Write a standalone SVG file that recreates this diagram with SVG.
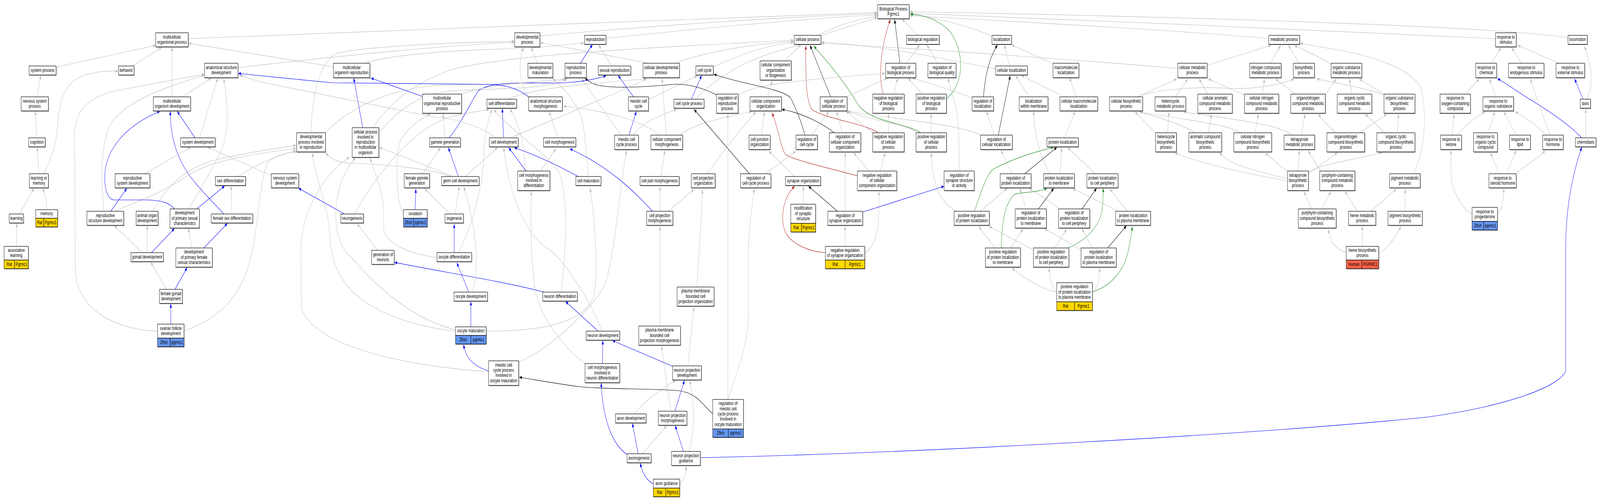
<svg xmlns="http://www.w3.org/2000/svg" width="6052" height="1283" viewBox="0 0 6052 1283" preserveAspectRatio="none" style="width:100%;height:100%;display:block">
<style>
text{font-family:"Liberation Sans",Arial,sans-serif;font-size:13px;text-anchor:middle;fill:#000}
.n rect{fill:#fff;stroke:#000;stroke-width:1.2}
.n rect.s{fill:#777;stroke:none}
.n rect.y{fill:#FFD700}
.n rect.z{fill:#6495ED}
.n rect.h{fill:#FF6347}
.e path{fill:none;stroke-width:1.2}
.g{stroke:#C0C0C0;marker-end:url(#mg)}
.b{stroke:#0000FF;marker-end:url(#mb)}
.k{stroke:#000;marker-end:url(#mk)}
.r{stroke:#B22222;marker-end:url(#mr)}
.v{stroke:#228B22;marker-end:url(#mv)}
</style>
<defs>
<marker id="mg" viewBox="0 0 10 8" refX="10" refY="4" markerWidth="11" markerHeight="8" markerUnits="userSpaceOnUse" orient="auto"><path d="M0,0L10,4L0,8z" fill="#C0C0C0"/></marker>
<marker id="mb" viewBox="0 0 10 8" refX="10" refY="4" markerWidth="11" markerHeight="8" markerUnits="userSpaceOnUse" orient="auto"><path d="M0,0L10,4L0,8z" fill="#0000FF"/></marker>
<marker id="mk" viewBox="0 0 10 8" refX="10" refY="4" markerWidth="11" markerHeight="8" markerUnits="userSpaceOnUse" orient="auto"><path d="M0,0L10,4L0,8z" fill="#000"/></marker>
<marker id="mr" viewBox="0 0 10 8" refX="10" refY="4" markerWidth="11" markerHeight="8" markerUnits="userSpaceOnUse" orient="auto"><path d="M0,0L10,4L0,8z" fill="#B22222"/></marker>
<marker id="mv" viewBox="0 0 10 8" refX="10" refY="4" markerWidth="11" markerHeight="8" markerUnits="userSpaceOnUse" orient="auto"><path d="M0,0L10,4L0,8z" fill="#228B22"/></marker>
</defs>
<rect width="6052" height="1283" fill="#fff"/>
<g id="edges" class="e">
<path class="g" d="M712,99 C1500,80 2500,50 3318,32"/>
<path class="g" d="M2042,92 C2400,70 2900,45 3318,35"/>
<path class="g" d="M2292,98 C2700,70 3000,50 3318,38"/>
<path class="g" d="M3103,91 L3319,45"/>
<path class="g" d="M2970,156 C3020,110 3150,60 3318,41"/>
<path class="g" d="M3473,91 L3412,49"/>
<path class="g" d="M3752,93 C3650,60 3500,42 3441,37"/>
<path class="g" d="M4799,99 C4500,80 4000,61 3441,40"/>
<path class="g" d="M5657,99 C5300,85 4000,49 3441,34"/>
<path class="g" d="M5931,97 C5600,60 4000,37 3441,30"/>
<path class="k" d="M3404,162 L3384,50"/>
<path class="r" d="M3341,241 C3322,200 3330,120 3368,50"/>
<path class="v" d="M3580,253 C3650,215 3650,130 3590,78 C3540,45 3480,37 3443,36"/>
<path class="g" d="M2554,162 C2700,125 2900,110 3002,106"/>
<path class="g" d="M2698,172 C2800,140 2900,115 3002,109"/>
<path class="g" d="M2630,254 C2750,170 2900,135 3029,115"/>
<path class="g" d="M1410,327 C1480,260 1560,215 1700,180 C1900,140 2500,120 3002,103"/>
<path class="g" d="M3766,177 C3500,140 3300,115 3107,108"/>
<path class="g" d="M4455,175 C4100,155 3500,125 3107,111"/>
<path class="k" d="M3142,248 L3064,116"/>
<path class="r" d="M3322,340 C3280,318 3120,304 3070,280 C3045,250 3048,180 3048,117"/>
<path class="v" d="M3483,340 C3419,313 3290,313 3245,267 C3220,240 3193,206 3078,118"/>
<path class="g" d="M3428,162 L3479,115"/>
<path class="g" d="M3547,162 L3506,115"/>
<path class="k" d="M3720,248 C3725,200 3740,150 3773,115"/>
<path class="g" d="M3819,169 L3799,115"/>
<path class="g" d="M3979,162 L3827,115"/>
<path class="g" d="M3203,247 L3357,200"/>
<path class="g" d="M3380,241 L3396,200"/>
<path class="g" d="M3488,241 L3435,200"/>
<path class="g" d="M3677,251 C3600,230 3500,210 3451,200"/>
<path class="g" d="M2792,243 C2850,220 2950,208 3348,188"/>
<path class="g" d="M3628,438 C3628,380 3630,300 3610,260 C3600,240 3592,220 3586,200"/>
<path class="k" d="M3776,346 L3821,194"/>
<path class="g" d="M3892,248 L3841,193"/>
<path class="g" d="M4010,243 L3863,193"/>
<path class="g" d="M4071,248 L4045,199"/>
<path class="g" d="M3071,346 L3135,285"/>
<path class="g" d="M3187,340 L3164,285"/>
<path class="g" d="M3303,342 L3200,285"/>
<path class="g" d="M3470,340 C3420,315 3300,310 3206,285"/>
<path class="g" d="M3709,346 C3640,320 3400,306 3206,285"/>
<path class="g" d="M3361,340 L3361,291"/>
<path class="g" d="M3522,340 L3522,291"/>
<path class="g" d="M3760,346 L3731,285"/>
<path class="g" d="M3973,445 C3930,400 3912,340 3910,285"/>
<path class="g" d="M4026,353 L4067,285"/>
<path class="k" d="M3045,346 C3030,310 3015,285 2990,250 C2950,225 2800,215 2700,190"/>
<path class="g" d="M2895,445 L3010,387"/>
<path class="k" d="M3155,340 C3120,320 3040,290 2957,280"/>
<path class="g" d="M3197,541 L3197,391"/>
<path class="g" d="M3287,438 L3229,391"/>
<path class="g" d="M3330,438 L3348,391"/>
<path class="r" d="M3243,450 C3100,425 3000,409 2970,395 C2950,370 2945,330 2920,289"/>
<path class="g" d="M3615,541 C3560,515 3530,490 3522,391"/>
<path class="g" d="M3828,445 L3786,385"/>
<path class="k" d="M3876,445 L3998,377"/>
<path class="v" d="M3686,541 C3720,470 3740,440 3760,432 C3850,400 3940,385 3985,377"/>
<path class="g" d="M4010,445 L4016,378"/>
<path class="g" d="M4142,445 L4039,378"/>
<path class="g" d="M3271,647 C3300,640 3322,600 3324,550 L3325,490"/>
<path class="b" d="M3263,543 L3571,477"/>
<path class="g" d="M3708,541 L3811,482"/>
<path class="g" d="M3882,535 L3857,482"/>
<path class="g" d="M4004,532 L3893,482"/>
<path class="k" d="M3928,535 L3986,482"/>
<path class="v" d="M3787,635 C3790,570 3800,520 3837,498 C3870,490 3920,495 3960,482"/>
<path class="g" d="M4229,541 L4058,483"/>
<path class="g" d="M3197,631 L3197,579"/>
<path class="k" d="M3168,541 L3058,477"/>
<path class="r" d="M3122,647 C3060,645 3000,625 2975,600 C2950,570 2955,510 3006,477"/>
<path class="g" d="M3039,523 L3039,477"/>
<path class="g" d="M3005,452 L2908,387"/>
<path class="g" d="M2905,248 L2921,207"/>
<path class="g" d="M2879,346 L2892,286"/>
<path class="g" d="M2676,445 C2720,400 2790,340 2860,286"/>
<path class="g" d="M2570,346 C2620,320 2700,305 2844,286"/>
<path class="b" d="M2615,254 L2654,193"/>
<path class="g" d="M2453,255 L2638,194"/>
<path class="g" d="M2394,346 C2420,325 2450,305 2560,280"/>
<path class="k" d="M2835,445 L2625,280"/>
<path class="g" d="M2753,1023 L2753,292"/>
<path class="k" d="M2710,243 C2660,225 2600,214 2547,216 C2450,222 2330,228 2260,218 C2240,214 2225,208 2213,200"/>
<path class="g" d="M2755,1022 C2770,975 2830,900 2831,800 L2831,640 C2832,590 2845,530 2853,483"/>
<path class="b" d="M2396,248 L2338,193"/>
<path class="b" d="M2379,346 L2407,285"/>
<path class="g" d="M2351,346 C2320,320 2280,280 2200,201"/>
<path class="b" d="M2195,162 L2241,114"/>
<path class="g" d="M2314,169 L2264,115"/>
<path class="g" d="M1380,162 C1500,135 1800,126 2000,124 L2209,110"/>
<path class="g" d="M1229,340 C1350,260 1500,228 1644,219 C1800,212 2050,222 2139,202"/>
<path class="g" d="M1433,340 C1500,290 1560,245 1700,233 C1900,225 2080,230 2145,202"/>
<path class="g" d="M1921,254 C2000,228 2200,215 2444,202"/>
<path class="g" d="M1934,353 C2000,330 2250,265 2446,202"/>
<path class="g" d="M2520,346 L2504,201"/>
<path class="g" d="M2454,162 L2043,109"/>
<path class="g" d="M2032,162 L2010,121"/>
<path class="g" d="M2225,452 C2220,400 2210,330 2200,300 C2160,240 2120,220 2090,201"/>
<path class="g" d="M2002,248 C1960,215 1960,160 1980,122"/>
<path class="g" d="M2110,353 L2077,286"/>
<path class="g" d="M2493,346 C2440,312 2300,284 2132,272"/>
<path class="g" d="M2045,438 L2103,381"/>
<path class="b" d="M2468,541 C2400,490 2300,425 2155,381"/>
<path class="g" d="M1839,848 C1950,848 2200,845 2245,760 C2265,700 2250,560 2232,482"/>
<path class="g" d="M1962,927 C2050,905 2200,820 2280,740 C2320,690 2340,500 2370,385"/>
<path class="g" d="M2499,452 L2515,385"/>
<path class="g" d="M2496,541 L2496,478"/>
<path class="g" d="M2528,541 L2625,485"/>
<path class="g" d="M2635,735 C2640,700 2650,600 2657,485"/>
<path class="g" d="M2496,835 L2496,580"/>
<path class="g" d="M2602,937 L2625,786"/>
<path class="g" d="M2538,1053 L2502,886"/>
<path class="g" d="M2122,748 C2140,650 2150,520 2120,450 C2090,400 1920,330 1868,280"/>
<path class="b" d="M2058,748 C1900,720 1700,700 1492,672"/>
<path class="b" d="M2263,848 L2139,772"/>
<path class="g" d="M2213,931 C2150,900 2060,830 2030,760 C2010,700 2005,580 2010,490"/>
<path class="g" d="M2277,848 C2240,780 2150,680 2080,640 C2000,610 1930,520 1905,378"/>
<path class="b" d="M2279,931 L2280,872"/>
<path class="b" d="M2544,938 L2316,872"/>
<path class="b" d="M2372,1164 C2320,1140 2280,1080 2274,981"/>
<path class="g" d="M2401,1060 C2420,1040 2470,1010 2555,974"/>
<path class="b" d="M2553,1053 L2589,974"/>
<path class="g" d="M2607,1156 C2625,1100 2630,1050 2609,974"/>
<path class="b" d="M2414,1162 L2392,1084"/>
<path class="g" d="M2430,1162 L2522,1090"/>
<path class="b" d="M2585,1156 L2554,1090"/>
<path class="b" d="M2471,1239 C2450,1232 2430,1215 2422,1186"/>
<path class="g" d="M2571,1239 C2585,1232 2593,1220 2596,1194"/>
<path class="b" d="M2649,1172 C3500,1160 4800,1110 5400,1068 C5700,1040 5900,990 5922,950 L5922,640 C5922,560 5935,470 5983,377"/>
<path class="k" d="M2696,1060 C2660,1040 2640,1005 2560,1000 C2450,995 2250,996 2190,990 C2100,982 2020,972 1964,966"/>
<path class="b" d="M1848,950 C1800,940 1760,920 1754,882"/>
<path class="g" d="M1848,952 C1600,940 1200,900 1140,790 L1138,640 C1138,560 1200,460 1322,402"/>
<path class="b" d="M1781,837 L1781,772"/>
<path class="g" d="M1723,848 C1500,830 1360,780 1300,720 C1260,680 1250,640 1248,600 C1240,520 1190,460 1182,391"/>
<path class="g" d="M1723,845 C1550,815 1420,730 1330,660 C1250,620 1245,480 1345,404"/>
<path class="b" d="M1773,748 L1728,673"/>
<path class="g" d="M1787,748 C1810,700 1810,600 1754,478"/>
<path class="b" d="M1718,647 L1718,574"/>
<path class="g" d="M1734,647 C1800,560 1830,450 1830,400 C1830,340 1850,300 1862,280"/>
<path class="g" d="M1653,660 C1560,650 1470,630 1451,590 L1451,535 C1445,480 1415,440 1400,405"/>
<path class="g" d="M1428,641 L1351,573"/>
<path class="g" d="M1702,548 L1606,483"/>
<path class="g" d="M1721,548 L1737,477"/>
<path class="b" d="M1570,537 L1573,484"/>
<path class="g" d="M1526,547 C1500,530 1495,400 1510,370 C1530,330 1600,300 1628,292"/>
<path class="b" d="M1303,548 L1129,482"/>
<path class="g" d="M1341,548 C1420,450 1560,330 1700,300 C1780,285 1830,285 1850,279"/>
<path class="g" d="M1599,445 L1667,378"/>
<path class="b" d="M1734,452 L1696,378"/>
<path class="g" d="M1760,452 L1882,378"/>
<path class="g" d="M1715,452 L1434,377"/>
<path class="g" d="M1712,455 C1650,432 1450,420 1320,418 C1270,416 1245,402 1232,391"/>
<path class="g" d="M1683,353 L1676,291"/>
<path class="b" d="M1699,353 C1750,310 1790,250 1810,232 C1850,212 1950,212 2010,212 C2100,214 2200,214 2293,194"/>
<path class="g" d="M1746,241 C1850,215 2000,212 2145,201"/>
<path class="b" d="M1905,353 L1900,278"/>
<path class="g" d="M1985,438 C1990,380 1960,310 1928,279"/>
<path class="b" d="M1990,438 L1924,378"/>
<path class="b" d="M2187,452 C2100,420 2020,395 1945,378"/>
<path class="b" d="M1598,247 L1403,200"/>
<path class="b" d="M1372,327 L1338,200"/>
<path class="g" d="M1261,171 L713,111"/>
<path class="g" d="M1176,340 C1180,260 1200,170 1264,140 C1300,125 1600,110 1946,106"/>
<path class="g" d="M900,173 C1200,150 1600,120 1946,108"/>
<path class="g" d="M435,541 C500,520 600,500 708,450 C800,410 950,395 1120,380"/>
<path class="g" d="M578,541 C650,455 720,430 800,412 C900,395 1000,385 1120,372"/>
<path class="g" d="M902,452 C960,425 1020,405 1120,386"/>
<path class="g" d="M696,848 C830,815 920,760 955,640 C980,550 985,460 1010,420 C1040,395 1090,390 1121,389"/>
<path class="g" d="M596,848 C450,845 300,800 285,700 L282,345 C282,270 360,245 440,232 L773,190"/>
<path class="g" d="M393,541 C385,470 375,400 410,330 C450,265 600,230 773,192"/>
<path class="g" d="M715,535 C760,480 800,440 840,380 C870,330 860,260 846,201"/>
<path class="b" d="M2000,249 C1960,225 1900,216 1837,216 L1257,212 C1150,205 1000,195 901,188"/>
<path class="g" d="M1876,353 C1800,315 1700,302 1644,300 L1000,212 C960,205 930,198 907,193"/>
<path class="g" d="M690,248 L799,200"/>
<path class="g" d="M755,353 L824,200"/>
<path class="g" d="M651,248 L651,121"/>
<path class="b" d="M738,353 L670,285"/>
<path class="b" d="M660,535 C640,520 620,514 560,512 L430,512 C410,510 395,490 396,450 C400,380 480,320 605,285"/>
<path class="b" d="M847,548 C780,500 720,460 690,420 C650,370 644,320 644,285"/>
<path class="g" d="M212,172 L589,116"/>
<path class="g" d="M502,169 L612,121"/>
<path class="g" d="M139,248 L155,193"/>
<path class="g" d="M139,353 L134,285"/>
<path class="g" d="M147,445 L141,377"/>
<path class="g" d="M166,445 C190,410 212,380 218,320 C225,260 240,220 300,198 C360,180 420,182 447,182"/>
<path class="g" d="M73,548 L129,482"/>
<path class="g" d="M177,537 C177,510 170,495 161,482"/>
<path class="g" d="M63,631 L63,572"/>
<path class="g" d="M548,445 L721,377"/>
<path class="g" d="M1027,450 L786,377"/>
<path class="b" d="M419,541 L480,482"/>
<path class="b" d="M744,535 L850,476"/>
<path class="g" d="M877,548 L874,476"/>
<path class="g" d="M538,647 L432,578"/>
<path class="g" d="M557,647 L557,578"/>
<path class="b" d="M573,647 L660,585"/>
<path class="g" d="M726,635 L712,585"/>
<path class="b" d="M771,635 L860,572"/>
<path class="g" d="M630,741 L570,671"/>
<path class="b" d="M662,741 L708,685"/>
<path class="b" d="M646,830 L646,778"/>
<path class="g" d="M4566,167 L4808,116"/>
<path class="g" d="M4805,162 L4844,116"/>
<path class="g" d="M4915,162 L4873,116"/>
<path class="g" d="M5036,165 C4980,140 4920,125 4896,116"/>
<path class="g" d="M5345,445 C5375,410 5405,320 5376,230 C5350,180 5200,140 5000,121 L4918,111"/>
<path class="g" d="M4303,248 L4451,202"/>
<path class="g" d="M4446,248 L4493,202"/>
<path class="g" d="M4570,241 L4535,202"/>
<path class="g" d="M4705,243 L4570,202"/>
<path class="g" d="M4303,247 C4400,225 4550,222 4644,226 C4750,230 4850,215 4895,202"/>
<path class="g" d="M4370,340 L4293,286"/>
<path class="g" d="M4416,340 L4422,286"/>
<path class="g" d="M4519,340 C4480,320 4400,305 4309,286"/>
<path class="g" d="M4570,340 L4583,292"/>
<path class="g" d="M4692,340 C4644,317 4451,304 4312,287"/>
<path class="g" d="M4747,340 L4760,292"/>
<path class="g" d="M4889,346 C4837,317 4644,304 4477,287"/>
<path class="g" d="M4921,346 L4937,292"/>
<path class="g" d="M4776,241 L4783,202"/>
<path class="g" d="M4899,241 L4825,202"/>
<path class="g" d="M5114,241 L5104,202"/>
<path class="g" d="M5235,241 L5141,202"/>
<path class="g" d="M5235,243 C5168,226 5050,212 4980,202"/>
<path class="g" d="M5013,243 L5054,202"/>
<path class="g" d="M5054,340 C5020,320 5000,305 4986,292"/>
<path class="g" d="M5144,340 L5245,292"/>
<path class="g" d="M5238,340 L5164,292"/>
<path class="g" d="M5285,340 L5290,292"/>
<path class="g" d="M4911,438 L4915,385"/>
<path class="g" d="M4870,463 C4644,436 4515,411 4444,392"/>
<path class="g" d="M4870,457 C4709,432 4650,420 4612,391"/>
<path class="g" d="M4870,440 L4786,392"/>
<path class="g" d="M4949,440 C5000,420 5100,412 5228,391"/>
<path class="g" d="M4949,445 L5059,391"/>
<path class="g" d="M4995,440 C4980,420 4960,400 4948,386"/>
<path class="g" d="M4963,535 L4931,490"/>
<path class="g" d="M5000,535 L5034,490"/>
<path class="g" d="M5134,541 L5087,490"/>
<path class="g" d="M5185,541 L5282,484"/>
<path class="g" d="M5315,541 L5315,484"/>
<path class="g" d="M5153,631 L5153,579"/>
<path class="g" d="M5215,647 C5245,640 5265,620 5300,580"/>
<path class="g" d="M5092,647 C5055,640 5030,620 5025,587"/>
<path class="g" d="M4264,541 L4197,483"/>
<path class="k" d="M4093,535 L4148,482"/>
<path class="v" d="M4039,635 C4100,620 4160,580 4168,540 C4172,520 4173,500 4173,482"/>
<path class="k" d="M4190,635 L4261,578"/>
<path class="v" d="M4132,748 C4193,734 4245,702 4265,650 C4275,620 4280,600 4283,580"/>
<path class="g" d="M4132,635 L4092,586"/>
<path class="g" d="M4089,640 C4040,620 3990,600 3951,586"/>
<path class="g" d="M3990,635 L4035,587"/>
<path class="g" d="M3909,640 L3741,580"/>
<path class="g" d="M3763,635 L3702,580"/>
<path class="g" d="M3821,635 L3870,586"/>
<path class="g" d="M3997,748 C3934,742 3850,700 3828,686"/>
<path class="g" d="M3997,748 C3973,734 3969,710 3969,686"/>
<path class="g" d="M4135,748 C4152,735 4159,715 4160,686"/>
<path class="g" d="M5641,162 L5678,122"/>
<path class="g" d="M5755,162 L5718,122"/>
<path class="g" d="M5896,162 L5741,116"/>
<path class="g" d="M6003,254 C6025,220 6027,180 5993,118"/>
<path class="b" d="M5988,254 L5956,202"/>
<path class="g" d="M5998,353 L5998,279"/>
<path class="b" d="M5983,353 C5939,321 5872,290 5800,260 C5740,235 5700,215 5664,201"/>
<path class="g" d="M5542,241 L5596,202"/>
<path class="g" d="M5658,248 L5634,202"/>
<path class="g" d="M5493,346 L5500,292"/>
<path class="g" d="M5513,346 C5530,330 5560,310 5617,286"/>
<path class="g" d="M5631,340 L5654,286"/>
<path class="g" d="M5735,346 L5688,286"/>
<path class="g" d="M5849,346 C5820,325 5780,305 5731,286"/>
<path class="g" d="M5862,346 L5788,202"/>
<path class="g" d="M5671,445 L5637,391"/>
<path class="g" d="M5698,445 L5735,385"/>
<path class="g" d="M5731,445 C5780,420 5820,405 5845,385"/>
<path class="g" d="M5568,548 C5540,540 5500,500 5490,460 C5488,430 5488,400 5488,385"/>
<path class="g" d="M5664,548 C5680,540 5688,510 5688,483"/>
</g>
<g id="nodes">
<g id="bp" class="n"><rect class="s" x="3321.5" y="13.5" width="119" height="36"/><rect x="3320" y="12" width="119" height="36"/><text x="3379.5" y="26.6">Biological Process</text><text x="3379.5" y="39.9">Pgrmc1</text></g>
<g id="mop" class="n"><rect class="s" x="590.5" y="85.5" width="123" height="36"/><rect x="589" y="84" width="123" height="36"/><text x="650.5" y="98.6">multicellular</text><text x="650.5" y="111.9">organismal process</text></g>
<g id="sp" class="n"><rect class="s" x="111.5" y="170.5" width="102" height="23"/><rect x="110" y="169" width="102" height="23"/><text x="161" y="183.7">system process</text></g>
<g id="beh" class="n"><rect class="s" x="449.5" y="170.5" width="59" height="23"/><rect x="448" y="169" width="59" height="23"/><text x="477.5" y="183.7">behavior</text></g>
<g id="asd" class="n"><rect class="s" x="775.5" y="163.5" width="126" height="37"/><rect x="774" y="162" width="126" height="37"/><text x="837" y="177.1">anatomical structure</text><text x="837" y="190.4">development</text></g>
<g id="nsp" class="n"><rect class="s" x="81.5" y="249.5" width="103" height="36"/><rect x="80" y="248" width="103" height="36"/><text x="131.5" y="262.6">nervous system</text><text x="131.5" y="275.9">process</text></g>
<g id="mod" class="n"><rect class="s" x="581.5" y="249.5" width="141" height="36"/><rect x="580" y="248" width="141" height="36"/><text x="650.5" y="262.6">multicellular</text><text x="650.5" y="275.9">organism development</text></g>
<g id="cog" class="n"><rect class="s" x="109.5" y="354.5" width="63" height="23"/><rect x="108" y="353" width="63" height="23"/><text x="139.5" y="367.7">cognition</text></g>
<g id="sysd" class="n"><rect class="s" x="684.5" y="354.5" width="131" height="23"/><rect x="683" y="353" width="131" height="23"/><text x="748.5" y="367.7">system development</text></g>
<g id="lom" class="n"><rect class="s" x="112.5" y="446.5" width="72" height="36"/><rect x="111" y="445" width="72" height="36"/><text x="147" y="459.6">learning or</text><text x="147" y="472.9">memory</text></g>
<g id="rsysd" class="n"><rect class="s" x="436.5" y="446.5" width="132" height="36"/><rect x="435" y="445" width="132" height="36"/><text x="501" y="459.6">reproductive</text><text x="501" y="472.9">system development</text></g>
<g id="sexd" class="n"><rect class="s" x="816.5" y="453.5" width="114" height="23"/><rect x="815" y="452" width="114" height="23"/><text x="872" y="466.7">sex differentiation</text></g>
<g id="learn" class="n"><rect class="s" x="36.5" y="549.5" width="54" height="23"/><rect x="35" y="548" width="54" height="23"/><text x="62" y="562.7">learning</text></g>
<g id="mem" class="n"><rect class="s" x="136.5" y="538.5" width="83" height="44"/><rect x="135" y="537" width="83" height="22"/><rect class="y" x="135" y="559" width="30.6" height="22"/><rect class="y" x="165.6" y="559" width="52.4" height="22"/><text x="176.5" y="551.2">memory</text><text x="150.3" y="574.5">Rat</text><text x="191.8" y="574.5">Pgrmc1</text></g>
<g id="rsd" class="n"><rect class="s" x="330.5" y="542.5" width="139" height="36"/><rect x="329" y="541" width="139" height="36"/><text x="398.5" y="555.6">reproductive</text><text x="398.5" y="568.9">structure development</text></g>
<g id="aod" class="n"><rect class="s" x="516.5" y="542.5" width="83" height="36"/><rect x="515" y="541" width="83" height="36"/><text x="556.5" y="555.6">animal organ</text><text x="556.5" y="568.9">development</text></g>
<g id="dpsc" class="n"><rect class="s" x="644.5" y="536.5" width="111" height="49"/><rect x="643" y="535" width="111" height="49"/><text x="698.5" y="549.4">development</text><text x="698.5" y="562.7">of primary sexual</text><text x="698.5" y="576">characteristics</text></g>
<g id="fsd" class="n"><rect class="s" x="800.5" y="549.5" width="157" height="23"/><rect x="799" y="548" width="157" height="23"/><text x="877.5" y="562.7">female sex differentiation</text></g>
<g id="al" class="n"><rect class="s" x="17" y="632.5" width="92" height="57"/><rect x="15.5" y="631" width="92" height="35"/><rect class="y" x="15.5" y="666" width="39.3" height="22"/><rect class="y" x="54.8" y="666" width="52.7" height="22"/><text x="61.5" y="645.1">associative</text><text x="61.5" y="658.4">learning</text><text x="35.2" y="681.5">Rat</text><text x="81.2" y="681.5">Pgrmc1</text></g>
<g id="dpfsc" class="n"><rect class="s" x="666.5" y="636.5" width="138" height="49"/><rect x="665" y="635" width="138" height="49"/><text x="734" y="649.4">development</text><text x="734" y="662.7">of primary female</text><text x="734" y="676">sexual characteristics</text></g>
<g id="gd" class="n"><rect class="s" x="496.5" y="648.5" width="123" height="23"/><rect x="495" y="647" width="123" height="23"/><text x="556.5" y="661.7">gonad development</text></g>
<g id="fgd" class="n"><rect class="s" x="604.5" y="742.5" width="87" height="36"/><rect x="603" y="741" width="87" height="36"/><text x="646.5" y="755.6">female gonad</text><text x="646.5" y="768.9">development</text></g>
<g id="ofd" class="n"><rect class="s" x="597.5" y="831.5" width="100" height="58"/><rect x="596" y="830" width="100" height="36"/><rect class="z" x="596" y="866" width="48" height="22"/><rect class="z" x="644" y="866" width="52" height="22"/><text x="646" y="844.6">ovarian follicle</text><text x="646" y="857.9">development</text><text x="620" y="881.5">Zfish</text><text x="670" y="881.5">pgrmc1</text></g>
<g id="dp" class="n"><rect class="s" x="1948.5" y="85.5" width="95" height="36"/><rect x="1947" y="84" width="95" height="36"/><text x="1994.5" y="98.6">developmental</text><text x="1994.5" y="111.9">process</text></g>
<g id="mor" class="n"><rect class="s" x="1262.5" y="163.5" width="138" height="37"/><rect x="1261" y="162" width="138" height="37"/><text x="1330" y="177.1">multicellular</text><text x="1330" y="190.4">organism reproduction</text></g>
<g id="morp" class="n"><rect class="s" x="1599.5" y="242.5" width="148" height="49"/><rect x="1598" y="241" width="148" height="49"/><text x="1672" y="255.4">multicellular</text><text x="1672" y="268.7">organismal reproductive</text><text x="1672" y="282">process</text></g>
<g id="cd" class="n"><rect class="s" x="1843.5" y="255.5" width="112" height="23"/><rect x="1842" y="254" width="112" height="23"/><text x="1898" y="268.7">cell differentiation</text></g>
<g id="asm" class="n"><rect class="s" x="2001.5" y="249.5" width="127" height="36"/><rect x="2000" y="248" width="127" height="36"/><text x="2063.5" y="262.6">anatomical structure</text><text x="2063.5" y="275.9">morphogenesis</text></g>
<g id="dpir" class="n"><rect class="s" x="1123.5" y="341.5" width="109" height="49"/><rect x="1122" y="340" width="109" height="49"/><text x="1176.5" y="354.4">developmental</text><text x="1176.5" y="367.7">process involved</text><text x="1176.5" y="381">in reproduction</text></g>
<g id="cpirmo" class="n"><rect class="s" x="1333.5" y="328.5" width="101" height="76"/><rect x="1332" y="327" width="101" height="76"/><text x="1382.5" y="341.6">cellular process</text><text x="1382.5" y="354.9">involved in</text><text x="1382.5" y="368.2">reproduction</text><text x="1382.5" y="381.5">in multicellular</text><text x="1382.5" y="394.8">organism</text></g>
<g id="gg" class="n"><rect class="s" x="1626.5" y="354.5" width="117" height="23"/><rect x="1625" y="353" width="117" height="23"/><text x="1683.5" y="367.7">gamete generation</text></g>
<g id="cdev" class="n"><rect class="s" x="1852.5" y="354.5" width="109" height="23"/><rect x="1851" y="353" width="109" height="23"/><text x="1905.5" y="367.7">cell development</text></g>
<g id="nsd" class="n"><rect class="s" x="1027.5" y="446.5" width="104" height="36"/><rect x="1026" y="445" width="104" height="36"/><text x="1078" y="459.6">nervous system</text><text x="1078" y="472.9">development</text></g>
<g id="fgg" class="n"><rect class="s" x="1530.5" y="446.5" width="96" height="36"/><rect x="1529" y="445" width="96" height="36"/><text x="1577" y="459.6">female gamete</text><text x="1577" y="472.9">generation</text></g>
<g id="gcd" class="n"><rect class="s" x="1671.5" y="453.5" width="142" height="23"/><rect x="1670" y="452" width="142" height="23"/><text x="1741" y="466.7">germ cell development</text></g>
<g id="cmid" class="n"><rect class="s" x="1959.5" y="439.5" width="122" height="50"/><rect x="1958" y="438" width="122" height="50"/><text x="2019" y="452.9">cell morphogenesis</text><text x="2019" y="466.2">involved in</text><text x="2019" y="479.5">differentiation</text></g>
<g id="neurog" class="n"><rect class="s" x="1290.5" y="549.5" width="86" height="23"/><rect x="1289" y="548" width="86" height="23"/><text x="1332" y="562.7">neurogenesis</text></g>
<g id="ovul" class="n"><rect class="s" x="1527.5" y="538.5" width="90" height="44"/><rect x="1526" y="537" width="90" height="22"/><rect class="z" x="1526" y="559" width="37.6" height="22"/><rect class="z" x="1563.6" y="559" width="52.4" height="22"/><text x="1571" y="551.2">ovulation</text><text x="1544.8" y="574.5">Zfish</text><text x="1589.8" y="574.5">pgrmc1</text></g>
<g id="oog" class="n"><rect class="s" x="1684.5" y="549.5" width="70" height="23"/><rect x="1683" y="548" width="70" height="23"/><text x="1718" y="562.7">oogenesis</text></g>
<g id="gon" class="n"><rect class="s" x="1407.5" y="642.5" width="85" height="36"/><rect x="1406" y="641" width="85" height="36"/><text x="1448.5" y="655.6">generation of</text><text x="1448.5" y="668.9">neurons</text></g>
<g id="odiff" class="n"><rect class="s" x="1654.5" y="648.5" width="131" height="23"/><rect x="1653" y="647" width="131" height="23"/><text x="1718.5" y="661.7">oocyte differentiation</text></g>
<g id="odev" class="n"><rect class="s" x="1718.5" y="749.5" width="127" height="23"/><rect x="1717" y="748" width="127" height="23"/><text x="1780.5" y="762.7">oocyte development</text></g>
<g id="omat" class="n"><rect class="s" x="1724.5" y="838.5" width="116" height="44"/><rect x="1723" y="837" width="116" height="22"/><rect class="z" x="1723" y="859" width="58" height="22"/><rect class="z" x="1781" y="859" width="58" height="22"/><text x="1781" y="851.2">oocyte maturation</text><text x="1752" y="874.5">Zfish</text><text x="1810" y="874.5">pgrmc1</text></g>
<g id="mccpiom" class="n"><rect class="s" x="1849.5" y="925.5" width="114" height="63"/><rect x="1848" y="924" width="114" height="63"/><text x="1905" y="938.8">meiotic cell</text><text x="1905" y="952.1">cycle process</text><text x="1905" y="965.4">involved in</text><text x="1905" y="978.7">oocyte maturation</text></g>
<g id="repro" class="n"><rect class="s" x="2212.5" y="92" width="81" height="23"/><rect x="2211" y="90.5" width="81" height="23"/><text x="2251.5" y="105.2">reproduction</text></g>
<g id="dm" class="n"><rect class="s" x="1998.5" y="163.5" width="94" height="37"/><rect x="1997" y="162" width="94" height="37"/><text x="2044" y="177.1">developmental</text><text x="2044" y="190.4">maturation</text></g>
<g id="rp" class="n"><rect class="s" x="2138.5" y="163.5" width="81" height="37"/><rect x="2137" y="162" width="81" height="37"/><text x="2177.5" y="177.1">reproductive</text><text x="2177.5" y="190.4">process</text></g>
<g id="sr" class="n"><rect class="s" x="2264.5" y="170.5" width="123" height="23"/><rect x="2263" y="169" width="123" height="23"/><text x="2324.5" y="183.7">sexual reproduction</text></g>
<g id="cdp" class="n"><rect class="s" x="2433.5" y="163.5" width="138" height="37"/><rect x="2432" y="162" width="138" height="37"/><text x="2501" y="177.1">cellular developmental</text><text x="2501" y="190.4">process</text></g>
<g id="cc" class="n"><rect class="s" x="2633.5" y="170.5" width="66" height="23"/><rect x="2632" y="169" width="66" height="23"/><text x="2665" y="183.7">cell cycle</text></g>
<g id="ccob" class="n"><rect class="s" x="2876.5" y="157.5" width="118" height="49"/><rect x="2875" y="156" width="118" height="49"/><text x="2934" y="170.4">cellular component</text><text x="2934" y="183.7">organization</text><text x="2934" y="197">or biogenesis</text></g>
<g id="mcc" class="n"><rect class="s" x="2378.5" y="249.5" width="76" height="36"/><rect x="2377" y="248" width="76" height="36"/><text x="2415" y="262.6">meiotic cell</text><text x="2415" y="275.9">cycle</text></g>
<g id="ccp" class="n"><rect class="s" x="2550.5" y="255.5" width="114" height="23"/><rect x="2549" y="254" width="114" height="23"/><text x="2606" y="268.7">cell cycle process</text></g>
<g id="rrp" class="n"><rect class="s" x="2711.5" y="242.5" width="82" height="49"/><rect x="2710" y="241" width="82" height="49"/><text x="2751" y="255.4">regulation of</text><text x="2751" y="268.7">reproductive</text><text x="2751" y="282">process</text></g>
<g id="cco" class="n"><rect class="s" x="2838.5" y="249.5" width="119" height="36"/><rect x="2837" y="248" width="119" height="36"/><text x="2896.5" y="262.6">cellular component</text><text x="2896.5" y="275.9">organization</text></g>
<g id="cm" class="n"><rect class="s" x="2057.5" y="354.5" width="122" height="23"/><rect x="2056" y="353" width="122" height="23"/><text x="2117" y="367.7">cell morphogenesis</text></g>
<g id="mccp" class="n"><rect class="s" x="2326.5" y="347.5" width="90" height="37"/><rect x="2325" y="346" width="90" height="37"/><text x="2370" y="361.1">meiotic cell</text><text x="2370" y="374.4">cycle process</text></g>
<g id="ccm" class="n"><rect class="s" x="2463.5" y="347.5" width="120" height="37"/><rect x="2462" y="346" width="120" height="37"/><text x="2522" y="361.1">cellular component</text><text x="2522" y="374.4">morphogenesis</text></g>
<g id="cjo" class="n"><rect class="s" x="2834.5" y="347.5" width="80" height="37"/><rect x="2833" y="346" width="80" height="37"/><text x="2873" y="361.1">cell junction</text><text x="2873" y="374.4">organization</text></g>
<g id="cmat" class="n"><rect class="s" x="2179.5" y="453.5" width="95" height="23"/><rect x="2178" y="452" width="95" height="23"/><text x="2225.5" y="466.7">cell maturation</text></g>
<g id="cpm" class="n"><rect class="s" x="2422.5" y="453.5" width="148" height="23"/><rect x="2421" y="452" width="148" height="23"/><text x="2495" y="466.7">cell part morphogenesis</text></g>
<g id="cpo" class="n"><rect class="s" x="2616.5" y="446.5" width="90" height="36"/><rect x="2615" y="445" width="90" height="36"/><text x="2660" y="459.6">cell projection</text><text x="2660" y="472.9">organization</text></g>
<g id="rccp" class="n"><rect class="s" x="2802.5" y="446.5" width="115" height="36"/><rect x="2801" y="445" width="115" height="36"/><text x="2858.5" y="459.6">regulation of</text><text x="2858.5" y="472.9">cell cycle process</text></g>
<g id="so" class="n"><rect class="s" x="2972.5" y="453.5" width="133" height="23"/><rect x="2971" y="452" width="133" height="23"/><text x="3037.5" y="466.7">synapse organization</text></g>
<g id="cpjm" class="n"><rect class="s" x="2447.5" y="542.5" width="99" height="36"/><rect x="2446" y="541" width="99" height="36"/><text x="2495.5" y="555.6">cell projection</text><text x="2495.5" y="568.9">morphogenesis</text></g>
<g id="mss" class="n"><rect class="s" x="2992.5" y="524.5" width="94" height="71"/><rect x="2991" y="523" width="94" height="49"/><rect class="y" x="2991" y="572" width="41" height="22"/><rect class="y" x="3032" y="572" width="53" height="22"/><text x="3038" y="537.4">modification</text><text x="3038" y="550.7">of synaptic</text><text x="3038" y="564">structure</text><text x="3011.5" y="587.5">Rat</text><text x="3058.5" y="587.5">Pgrmc1</text></g>
<g id="cp" class="n"><rect class="s" x="3005.5" y="92" width="101" height="23"/><rect x="3004" y="90.5" width="101" height="23"/><text x="3054.5" y="105.2">cellular process</text></g>
<g id="br" class="n"><rect class="s" x="3430.5" y="92" width="124" height="23"/><rect x="3429" y="90.5" width="124" height="23"/><text x="3491" y="105.2">biological regulation</text></g>
<g id="loc" class="n"><rect class="s" x="3753.5" y="92" width="74" height="23"/><rect x="3752" y="90.5" width="74" height="23"/><text x="3789" y="105.2">localization</text></g>
<g id="rbp" class="n"><rect class="s" x="3351.5" y="163.5" width="114" height="37"/><rect x="3350" y="162" width="114" height="37"/><text x="3407" y="177.1">regulation of</text><text x="3407" y="190.4">biological process</text></g>
<g id="rbq" class="n"><rect class="s" x="3511.5" y="163.5" width="106" height="37"/><rect x="3510" y="162" width="106" height="37"/><text x="3563" y="177.1">regulation of</text><text x="3563" y="190.4">biological quality</text></g>
<g id="cl" class="n"><rect class="s" x="3767.5" y="170.5" width="120" height="23"/><rect x="3766" y="169" width="120" height="23"/><text x="3826" y="183.7">cellular localization</text></g>
<g id="ml" class="n"><rect class="s" x="3984.5" y="163.5" width="98" height="37"/><rect x="3983" y="162" width="98" height="37"/><text x="4032" y="177.1">macromolecule</text><text x="4032" y="190.4">localization</text></g>
<g id="rcp" class="n"><rect class="s" x="3103.5" y="249.5" width="102" height="36"/><rect x="3102" y="248" width="102" height="36"/><text x="3153" y="262.6">regulation of</text><text x="3153" y="275.9">cellular process</text></g>
<g id="nrbp" class="n"><rect class="s" x="3302.5" y="242.5" width="119" height="49"/><rect x="3301" y="241" width="119" height="49"/><text x="3360.5" y="255.4">negative regulation</text><text x="3360.5" y="268.7">of biological</text><text x="3360.5" y="282">process</text></g>
<g id="prbp" class="n"><rect class="s" x="3466.5" y="242.5" width="115" height="49"/><rect x="3465" y="241" width="115" height="49"/><text x="3522.5" y="255.4">positive regulation</text><text x="3522.5" y="268.7">of biological</text><text x="3522.5" y="282">process</text></g>
<g id="rl" class="n"><rect class="s" x="3678.5" y="249.5" width="81" height="36"/><rect x="3677" y="248" width="81" height="36"/><text x="3717.5" y="262.6">regulation of</text><text x="3717.5" y="275.9">localization</text></g>
<g id="lwm" class="n"><rect class="s" x="3856.5" y="249.5" width="109" height="36"/><rect x="3855" y="248" width="109" height="36"/><text x="3909.5" y="262.6">localization</text><text x="3909.5" y="275.9">within membrane</text></g>
<g id="cml" class="n"><rect class="s" x="4010.5" y="249.5" width="143" height="36"/><rect x="4009" y="248" width="143" height="36"/><text x="4080.5" y="262.6">cellular macromolecule</text><text x="4080.5" y="275.9">localization</text></g>
<g id="rcc" class="n"><rect class="s" x="3012.5" y="347.5" width="81" height="37"/><rect x="3011" y="346" width="81" height="37"/><text x="3051.5" y="361.1">regulation of</text><text x="3051.5" y="374.4">cell cycle</text></g>
<g id="rcco" class="n"><rect class="s" x="3138.5" y="341.5" width="119" height="49"/><rect x="3137" y="340" width="119" height="49"/><text x="3196.5" y="354.4">regulation of</text><text x="3196.5" y="367.7">cellular component</text><text x="3196.5" y="381">organization</text></g>
<g id="nrcp" class="n"><rect class="s" x="3302.5" y="341.5" width="119" height="49"/><rect x="3301" y="340" width="119" height="49"/><text x="3360.5" y="354.4">negative regulation</text><text x="3360.5" y="367.7">of cellular</text><text x="3360.5" y="381">process</text></g>
<g id="prcp" class="n"><rect class="s" x="3466.5" y="341.5" width="115" height="49"/><rect x="3465" y="340" width="115" height="49"/><text x="3522.5" y="354.4">positive regulation</text><text x="3522.5" y="367.7">of cellular</text><text x="3522.5" y="381">process</text></g>
<g id="rcl" class="n"><rect class="s" x="3710.5" y="347.5" width="120" height="37"/><rect x="3709" y="346" width="120" height="37"/><text x="3769" y="361.1">regulation of</text><text x="3769" y="374.4">cellular localization</text></g>
<g id="pl" class="n"><rect class="s" x="3961.5" y="354.5" width="119" height="23"/><rect x="3960" y="353" width="119" height="23"/><text x="4019.5" y="367.7">protein localization</text></g>
<g id="nrcco" class="n"><rect class="s" x="3244.5" y="439.5" width="149" height="50"/><rect x="3243" y="438" width="149" height="50"/><text x="3317.5" y="452.9">negative regulation</text><text x="3317.5" y="466.2">of cellular</text><text x="3317.5" y="479.5">component organization</text></g>
<g id="rssa" class="n"><rect class="s" x="3572.5" y="439.5" width="114" height="50"/><rect x="3571" y="438" width="114" height="50"/><text x="3628" y="452.9">regulation of</text><text x="3628" y="466.2">synapse structure</text><text x="3628" y="479.5">or activity</text></g>
<g id="rpl" class="n"><rect class="s" x="3784.5" y="446.5" width="117" height="36"/><rect x="3783" y="445" width="117" height="36"/><text x="3841.5" y="459.6">regulation of</text><text x="3841.5" y="472.9">protein localization</text></g>
<g id="pltm" class="n"><rect class="s" x="3948.5" y="446.5" width="117" height="36"/><rect x="3947" y="445" width="117" height="36"/><text x="4005.5" y="459.6">protein localization</text><text x="4005.5" y="472.9">to membrane</text></g>
<g id="rso" class="n"><rect class="s" x="3132.5" y="542.5" width="132" height="36"/><rect x="3131" y="541" width="132" height="36"/><text x="3197" y="555.6">regulation of</text><text x="3197" y="568.9">synapse organization</text></g>
<g id="prpl" class="n"><rect class="s" x="3610.5" y="542.5" width="133" height="36"/><rect x="3609" y="541" width="133" height="36"/><text x="3675.5" y="555.6">positive regulation</text><text x="3675.5" y="568.9">of protein localization</text></g>
<g id="rpltm" class="n"><rect class="s" x="3841.5" y="536.5" width="118" height="49"/><rect x="3840" y="535" width="118" height="49"/><text x="3899" y="549.4">regulation of</text><text x="3899" y="562.7">protein localization</text><text x="3899" y="576">to membrane</text></g>
<g id="rpltcp" class="n"><rect class="s" x="4005.5" y="536.5" width="118" height="49"/><rect x="4004" y="535" width="118" height="49"/><text x="4063" y="549.4">regulation of</text><text x="4063" y="562.7">protein localization</text><text x="4063" y="576">to cell periphery</text></g>
<g id="nrso" class="n"><rect class="s" x="3123.5" y="632.5" width="149" height="57"/><rect x="3122" y="631" width="149" height="35"/><rect class="y" x="3122" y="666" width="74.5" height="22"/><rect class="y" x="3196.5" y="666" width="74.5" height="22"/><text x="3196.5" y="645.1">negative regulation</text><text x="3196.5" y="658.4">of synapse organization</text><text x="3159.3" y="681.5">Rat</text><text x="3233.8" y="681.5">Pgrmc1</text></g>
<g id="prpltm" class="n"><rect class="s" x="3728.5" y="636.5" width="133" height="49"/><rect x="3727" y="635" width="133" height="49"/><text x="3793.5" y="649.4">positive regulation</text><text x="3793.5" y="662.7">of protein localization</text><text x="3793.5" y="676">to membrane</text></g>
<g id="prpltcp" class="n"><rect class="s" x="3910.5" y="636.5" width="134" height="49"/><rect x="3909" y="635" width="134" height="49"/><text x="3976" y="649.4">positive regulation</text><text x="3976" y="662.7">of protein localization</text><text x="3976" y="676">to cell periphery</text></g>
<g id="rpltpm" class="n"><rect class="s" x="4090.5" y="636.5" width="133" height="49"/><rect x="4089" y="635" width="133" height="49"/><text x="4155.5" y="649.4">regulation of</text><text x="4155.5" y="662.7">protein localization</text><text x="4155.5" y="676">to plasma membrane</text></g>
<g id="prpltpm" class="n"><rect class="s" x="3998.5" y="725.5" width="135" height="71"/><rect x="3997" y="724" width="135" height="49"/><rect class="y" x="3997" y="773" width="67.4" height="22"/><rect class="y" x="4064.4" y="773" width="67.6" height="22"/><text x="4064.5" y="738.4">positive regulation</text><text x="4064.5" y="751.7">of protein localization</text><text x="4064.5" y="765">to plasma membrane</text><text x="4030.7" y="788.5">Rat</text><text x="4098.2" y="788.5">Pgrmc1</text></g>
<g id="mp" class="n"><rect class="s" x="4800.5" y="92" width="117" height="23"/><rect x="4799" y="90.5" width="117" height="23"/><text x="4857.5" y="105.2">metabolic process</text></g>
<g id="cmp" class="n"><rect class="s" x="4456.5" y="163.5" width="111" height="37"/><rect x="4455" y="162" width="111" height="37"/><text x="4510.5" y="177.1">cellular metabolic</text><text x="4510.5" y="190.4">process</text></g>
<g id="ncmp" class="n"><rect class="s" x="4728.5" y="163.5" width="119" height="37"/><rect x="4727" y="162" width="119" height="37"/><text x="4786.5" y="177.1">nitrogen compound</text><text x="4786.5" y="190.4">metabolic process</text></g>
<g id="bsp" class="n"><rect class="s" x="4893.5" y="163.5" width="80" height="37"/><rect x="4892" y="162" width="80" height="37"/><text x="4932" y="177.1">biosynthetic</text><text x="4932" y="190.4">process</text></g>
<g id="osmp" class="n"><rect class="s" x="5036.5" y="163.5" width="116" height="37"/><rect x="5035" y="162" width="116" height="37"/><text x="5093" y="177.1">organic substance</text><text x="5093" y="190.4">metabolic process</text></g>
<g id="cbp" class="n"><rect class="s" x="4198.5" y="249.5" width="125" height="36"/><rect x="4197" y="248" width="125" height="36"/><text x="4259.5" y="262.6">cellular biosynthetic</text><text x="4259.5" y="275.9">process</text></g>
<g id="hmp" class="n"><rect class="s" x="4370.5" y="249.5" width="116" height="36"/><rect x="4369" y="248" width="116" height="36"/><text x="4427" y="262.6">heterocycle</text><text x="4427" y="275.9">metabolic process</text></g>
<g id="cacmp" class="n"><rect class="s" x="4532.5" y="242.5" width="130" height="49"/><rect x="4531" y="241" width="130" height="49"/><text x="4596" y="255.4">cellular aromatic</text><text x="4596" y="268.7">compound metabolic</text><text x="4596" y="282">process</text></g>
<g id="cncmp" class="n"><rect class="s" x="4708.5" y="242.5" width="130" height="49"/><rect x="4707" y="241" width="130" height="49"/><text x="4772" y="255.4">cellular nitrogen</text><text x="4772" y="268.7">compound metabolic</text><text x="4772" y="282">process</text></g>
<g id="oncmp" class="n"><rect class="s" x="4883.5" y="242.5" width="131" height="49"/><rect x="4882" y="241" width="131" height="49"/><text x="4947.5" y="255.4">organonitrogen</text><text x="4947.5" y="268.7">compound metabolic</text><text x="4947.5" y="282">process</text></g>
<g id="hbp" class="n"><rect class="s" x="4372.5" y="341.5" width="79" height="49"/><rect x="4371" y="340" width="79" height="49"/><text x="4410.5" y="354.4">heterocycle</text><text x="4410.5" y="367.7">biosynthetic</text><text x="4410.5" y="381">process</text></g>
<g id="acbp" class="n"><rect class="s" x="4498.5" y="341.5" width="124" height="49"/><rect x="4497" y="340" width="124" height="49"/><text x="4559" y="354.4">aromatic compound</text><text x="4559" y="367.7">biosynthetic</text><text x="4559" y="381">process</text></g>
<g id="cncbp" class="n"><rect class="s" x="4668.5" y="341.5" width="143" height="49"/><rect x="4667" y="340" width="143" height="49"/><text x="4738.5" y="354.4">cellular nitrogen</text><text x="4738.5" y="367.7">compound biosynthetic</text><text x="4738.5" y="381">process</text></g>
<g id="tmp" class="n"><rect class="s" x="4858.5" y="347.5" width="116" height="37"/><rect x="4857" y="346" width="116" height="37"/><text x="4915" y="361.1">tetrapyrrole</text><text x="4915" y="374.4">metabolic process</text></g>
<g id="pltcp" class="n"><rect class="s" x="4112.5" y="446.5" width="118" height="36"/><rect x="4111" y="445" width="118" height="36"/><text x="4170" y="459.6">protein localization</text><text x="4170" y="472.9">to cell periphery</text></g>
<g id="tbp" class="n"><rect class="s" x="4871.5" y="439.5" width="79" height="50"/><rect x="4870" y="438" width="79" height="50"/><text x="4909.5" y="452.9">tetrapyrrole</text><text x="4909.5" y="466.2">biosynthetic</text><text x="4909.5" y="479.5">process</text></g>
<g id="pccmp" class="n"><rect class="s" x="4993.5" y="439.5" width="133" height="50"/><rect x="4992" y="438" width="133" height="50"/><text x="5058.5" y="452.9">porphyrin-containing</text><text x="5058.5" y="466.2">compound metabolic</text><text x="5058.5" y="479.5">process</text></g>
<g id="pltpm" class="n"><rect class="s" x="4221.5" y="542.5" width="132" height="36"/><rect x="4220" y="541" width="132" height="36"/><text x="4286" y="555.6">protein localization</text><text x="4286" y="568.9">to plasma membrane</text></g>
<g id="pccbp" class="n"><rect class="s" x="4912.5" y="536.5" width="143" height="49"/><rect x="4911" y="535" width="143" height="49"/><text x="4982.5" y="549.4">porphyrin-containing</text><text x="4982.5" y="562.7">compound biosynthetic</text><text x="4982.5" y="576">process</text></g>
<g id="rts" class="n"><rect class="s" x="5658.5" y="85.5" width="78" height="36"/><rect x="5657" y="84" width="78" height="36"/><text x="5696" y="98.6">response to</text><text x="5696" y="111.9">stimulus</text></g>
<g id="loco" class="n"><rect class="s" x="5932.5" y="92" width="73" height="23"/><rect x="5931" y="90.5" width="73" height="23"/><text x="5967.5" y="105.2">locomotion</text></g>
<g id="rtc" class="n"><rect class="s" x="5583.5" y="163.5" width="79" height="37"/><rect x="5582" y="162" width="79" height="37"/><text x="5621.5" y="177.1">response to</text><text x="5621.5" y="190.4">chemical</text></g>
<g id="rtes" class="n"><rect class="s" x="5707.5" y="163.5" width="134" height="37"/><rect x="5706" y="162" width="134" height="37"/><text x="5773" y="177.1">response to</text><text x="5773" y="190.4">endogenous stimulus</text></g>
<g id="rtexs" class="n"><rect class="s" x="5887.5" y="163.5" width="108" height="37"/><rect x="5886" y="162" width="108" height="37"/><text x="5940" y="177.1">response to</text><text x="5940" y="190.4">external stimulus</text></g>
<g id="occmp" class="n"><rect class="s" x="5059.5" y="242.5" width="131" height="49"/><rect x="5058" y="241" width="131" height="49"/><text x="5123.5" y="255.4">organic cyclic</text><text x="5123.5" y="268.7">compound metabolic</text><text x="5123.5" y="282">process</text></g>
<g id="osbp" class="n"><rect class="s" x="5236.5" y="242.5" width="117" height="49"/><rect x="5235" y="241" width="117" height="49"/><text x="5293.5" y="255.4">organic substance</text><text x="5293.5" y="268.7">biosynthetic</text><text x="5293.5" y="282">process</text></g>
<g id="rtocc" class="n"><rect class="s" x="5448.5" y="242.5" width="115" height="49"/><rect x="5447" y="241" width="115" height="49"/><text x="5504.5" y="255.4">response to</text><text x="5504.5" y="268.7">oxygen-containing</text><text x="5504.5" y="282">compound</text></g>
<g id="rtos" class="n"><rect class="s" x="5610.5" y="249.5" width="116" height="36"/><rect x="5609" y="248" width="116" height="36"/><text x="5667" y="262.6">response to</text><text x="5667" y="275.9">organic substance</text></g>
<g id="taxis" class="n"><rect class="s" x="5978.5" y="255.5" width="39" height="23"/><rect x="5977" y="254" width="39" height="23"/><text x="5996.5" y="268.7">taxis</text></g>
<g id="oncbp" class="n"><rect class="s" x="5020.5" y="341.5" width="143" height="49"/><rect x="5019" y="340" width="143" height="49"/><text x="5090.5" y="354.4">organonitrogen</text><text x="5090.5" y="367.7">compound biosynthetic</text><text x="5090.5" y="381">process</text></g>
<g id="occbp" class="n"><rect class="s" x="5209.5" y="341.5" width="144" height="49"/><rect x="5208" y="340" width="144" height="49"/><text x="5280" y="354.4">organic cyclic</text><text x="5280" y="367.7">compound biosynthetic</text><text x="5280" y="381">process</text></g>
<g id="rtk" class="n"><rect class="s" x="5450.5" y="347.5" width="79" height="37"/><rect x="5449" y="346" width="79" height="37"/><text x="5488.5" y="361.1">response to</text><text x="5488.5" y="374.4">ketone</text></g>
<g id="rtoccomp" class="n"><rect class="s" x="5575.5" y="341.5" width="90" height="49"/><rect x="5574" y="340" width="90" height="49"/><text x="5619" y="354.4">response to</text><text x="5619" y="367.7">organic cyclic</text><text x="5619" y="381">compound</text></g>
<g id="rtl" class="n"><rect class="s" x="5711.5" y="347.5" width="79" height="37"/><rect x="5710" y="346" width="79" height="37"/><text x="5749.5" y="361.1">response to</text><text x="5749.5" y="374.4">lipid</text></g>
<g id="rth" class="n"><rect class="s" x="5836.5" y="347.5" width="78" height="37"/><rect x="5835" y="346" width="78" height="37"/><text x="5874" y="361.1">response to</text><text x="5874" y="374.4">hormone</text></g>
<g id="chemo" class="n"><rect class="s" x="5960.5" y="354.5" width="78" height="23"/><rect x="5959" y="353" width="78" height="23"/><text x="5998" y="367.7">chemotaxis</text></g>
<g id="pigmp" class="n"><rect class="s" x="5257.5" y="446.5" width="116" height="36"/><rect x="5256" y="445" width="116" height="36"/><text x="5314" y="459.6">pigment metabolic</text><text x="5314" y="472.9">process</text></g>
<g id="rtsh" class="n"><rect class="s" x="5633.5" y="446.5" width="103" height="36"/><rect x="5632" y="445" width="103" height="36"/><text x="5683.5" y="459.6">response to</text><text x="5683.5" y="472.9">steroid hormone</text></g>
<g id="hemmp" class="n"><rect class="s" x="5102.5" y="542.5" width="103" height="36"/><rect x="5101" y="541" width="103" height="36"/><text x="5152.5" y="555.6">heme metabolic</text><text x="5152.5" y="568.9">process</text></g>
<g id="pigbp" class="n"><rect class="s" x="5251.5" y="542.5" width="130" height="36"/><rect x="5250" y="541" width="130" height="36"/><text x="5315" y="555.6">pigment biosynthetic</text><text x="5315" y="568.9">process</text></g>
<g id="rtp" class="n"><rect class="s" x="5569.5" y="532.5" width="96" height="58"/><rect x="5568" y="531" width="96" height="36"/><rect class="z" x="5568" y="567" width="44" height="22"/><rect class="z" x="5612" y="567" width="52" height="22"/><text x="5616" y="545.6">response to</text><text x="5616" y="558.9">progesterone</text><text x="5590" y="582.5">Zfish</text><text x="5638" y="582.5">pgrmc1</text></g>
<g id="hembp" class="n"><rect class="s" x="5093.5" y="632.5" width="123" height="57"/><rect x="5092" y="631" width="123" height="35"/><rect class="h" x="5092" y="666" width="59" height="22"/><rect class="h" x="5151" y="666" width="64" height="22"/><text x="5153.5" y="645.1">heme biosynthetic</text><text x="5153.5" y="658.4">process</text><text x="5121.5" y="681.5">Human</text><text x="5183" y="681.5">PGRMC1</text></g>
<g id="nd" class="n"><rect class="s" x="2054.5" y="749.5" width="131" height="23"/><rect x="2053" y="748" width="131" height="23"/><text x="2118.5" y="762.7">neuron differentiation</text></g>
<g id="pmbcpo" class="n"><rect class="s" x="2562.5" y="736.5" width="140" height="49"/><rect x="2561" y="735" width="140" height="49"/><text x="2631" y="749.4">plasma membrane</text><text x="2631" y="762.7">bounded cell</text><text x="2631" y="776">projection organization</text></g>
<g id="ndev" class="n"><rect class="s" x="2218.5" y="849.5" width="127" height="23"/><rect x="2217" y="848" width="127" height="23"/><text x="2280.5" y="862.7">neuron development</text></g>
<g id="pmbcpm" class="n"><rect class="s" x="2417.5" y="836.5" width="158" height="49"/><rect x="2416" y="835" width="158" height="49"/><text x="2495" y="849.4">plasma membrane</text><text x="2495" y="862.7">bounded cell</text><text x="2495" y="876">projection morphogenesis</text></g>
<g id="cmind" class="n"><rect class="s" x="2214.5" y="932.5" width="131" height="49"/><rect x="2213" y="931" width="131" height="49"/><text x="2278.5" y="945.4">cell morphogenesis</text><text x="2278.5" y="958.7">involved in</text><text x="2278.5" y="972">neuron differentiation</text></g>
<g id="npd" class="n"><rect class="s" x="2545.5" y="938.5" width="109" height="36"/><rect x="2544" y="937" width="109" height="36"/><text x="2598.5" y="951.6">neuron projection</text><text x="2598.5" y="964.9">development</text></g>
<g id="rmccp" class="n"><rect class="s" x="2697.5" y="1024.5" width="116" height="97"/><rect x="2696" y="1023" width="116" height="75.5"/><rect class="z" x="2696" y="1098.5" width="59" height="21.5"/><rect class="z" x="2755" y="1098.5" width="57" height="21.5"/><text x="2754" y="1037.4">regulation of</text><text x="2754" y="1050.7">meiotic cell</text><text x="2754" y="1064">cycle process</text><text x="2754" y="1077.3">involved in</text><text x="2754" y="1090.6">oocyte maturation</text><text x="2725.5" y="1113.5">Zfish</text><text x="2783.5" y="1113.5">pgrmc1</text></g>
<g id="axd" class="n"><rect class="s" x="2329.5" y="1061.5" width="116" height="23"/><rect x="2328" y="1060" width="116" height="23"/><text x="2386" y="1074.7">axon development</text></g>
<g id="npm" class="n"><rect class="s" x="2491.5" y="1054.5" width="108" height="36"/><rect x="2490" y="1053" width="108" height="36"/><text x="2544" y="1067.6">neuron projection</text><text x="2544" y="1080.9">morphogenesis</text></g>
<g id="axg" class="n"><rect class="s" x="2373.5" y="1163.5" width="91" height="23"/><rect x="2372" y="1162" width="91" height="23"/><text x="2417.5" y="1176.7">axonogenesis</text></g>
<g id="npg" class="n"><rect class="s" x="2541.5" y="1157.5" width="109" height="36"/><rect x="2540" y="1156" width="109" height="36"/><text x="2594.5" y="1170.6">neuron projection</text><text x="2594.5" y="1183.9">guidance</text></g>
<g id="axgu" class="n"><rect class="s" x="2472.5" y="1228.5" width="100" height="45"/><rect x="2471" y="1227" width="100" height="23"/><rect class="y" x="2471" y="1250" width="47.5" height="22"/><rect class="y" x="2518.5" y="1250" width="52.5" height="22"/><text x="2521" y="1241.7">axon guidance</text><text x="2494.8" y="1265.5">Rat</text><text x="2544.8" y="1265.5">Pgrmc1</text></g>
</g>
</svg>
